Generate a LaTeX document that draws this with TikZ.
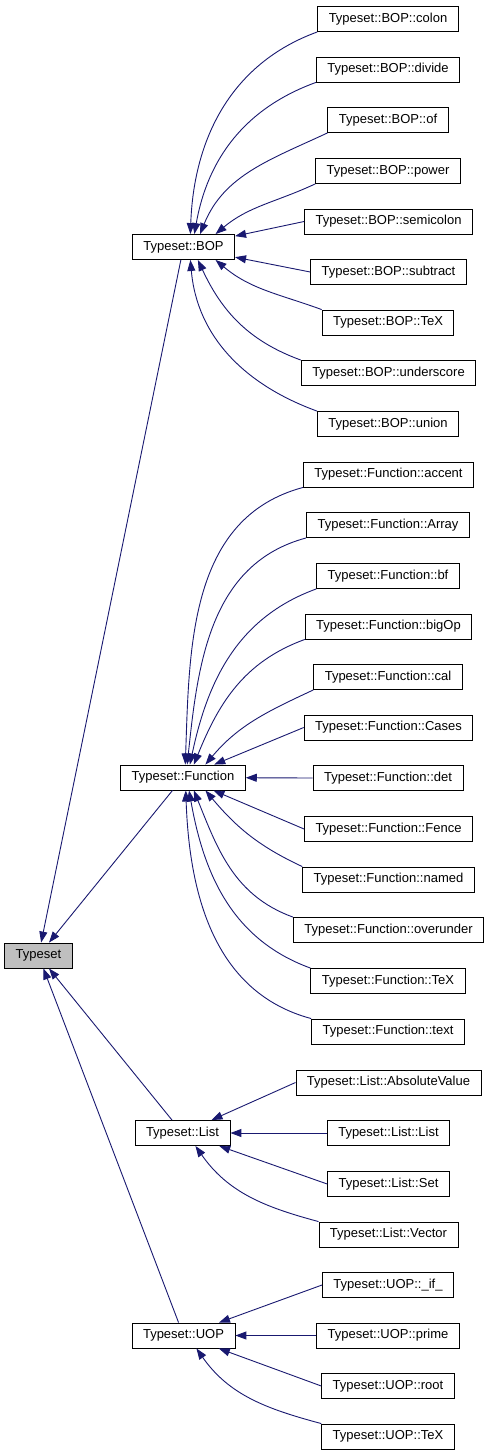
\documentclass[tikz,border=0pt]{standalone}
\usepackage{fontspec}
\setmainfont{Liberation Sans}
\usetikzlibrary{arrows.meta}
\definecolor{edgeblue}{RGB}{25,25,112}
\begin{document}
\begin{tikzpicture}[
    x=1pt, y=1pt,
    class/.style={rectangle, draw=black, line width=0.9pt, minimum height=25pt, inner xsep=11pt, inner ysep=0pt, font=\fontsize{13}{15}\selectfont, fill=white},
    base/.style={class, fill=black!25},
    arrow/.style={-{Triangle[length=11pt, width=8pt]}, draw=edgeblue, line width=0.9pt},
]
    \useasboundingbox (0,0) rectangle (488,-1456);

    % Root
    \node[base] (typeset) at (38.5,-955.5) {Typeset};

    % Direct subclasses
    \node[class] (bop) at (183.5,-247) {Typeset::BOP};
    \node[class] (function) at (183,-777.5) {Typeset::Function};
    \node[class] (list) at (182.5,-1133) {Typeset::List};
    \node[class] (uop) at (183.5,-1335.5) {Typeset::UOP};

    % BOP subclasses
    \node[class] (colon) at (388,-19) {Typeset::BOP::colon};
    \node[class] (divide) at (388,-69.5) {Typeset::BOP::divide};
    \node[class] (of) at (388,-120) {Typeset::BOP::of};
    \node[class] (power) at (388,-171) {Typeset::BOP::power};
    \node[class] (semicolon) at (388.5,-221.5) {Typeset::BOP::semicolon};
    \node[class] (subtract) at (388.5,-272) {Typeset::BOP::subtract};
    \node[class] (boptex) at (388,-322.5) {Typeset::BOP::TeX};
    \node[class] (underscore) at (388.5,-373) {Typeset::BOP::underscore};
    \node[class] (union) at (388,-424) {Typeset::BOP::union};

    % Function subclasses
    \node[class] (accent) at (388.5,-474.5) {Typeset::Function::accent};
    \node[class] (array) at (388,-525) {Typeset::Function::Array};
    \node[class] (bf) at (388,-576) {Typeset::Function::bf};
    \node[class] (bigop) at (388.5,-626.5) {Typeset::Function::bigOp};
    \node[class] (cal) at (388,-677) {Typeset::Function::cal};
    \node[class] (cases) at (388.5,-727.5) {Typeset::Function::Cases};
    \node[class] (det) at (388,-778) {Typeset::Function::det};
    \node[class] (fence) at (388.5,-829) {Typeset::Function::Fence};
    \node[class] (named) at (388.5,-879.5) {Typeset::Function::named};
    \node[class] (overunder) at (388.5,-930) {Typeset::Function::overunder};
    \node[class] (fntex) at (388,-981) {Typeset::Function::TeX};
    \node[class] (fntext) at (388,-1031.5) {Typeset::Function::text};

    % List subclasses
    \node[class] (absval) at (388.5,-1082.5) {Typeset::List::AbsoluteValue};
    \node[class] (listlist) at (388.5,-1133) {Typeset::List::List};
    \node[class] (set) at (388.5,-1184) {Typeset::List::Set};
    \node[class] (vector) at (388.5,-1234.5) {Typeset::List::Vector};

    % UOP subclasses
    \node[class] (if) at (388,-1285) {Typeset::UOP::\_if\_};
    \node[class] (prime) at (388,-1335.5) {Typeset::UOP::prime};
    \node[class] (root) at (388,-1386) {Typeset::UOP::root};
    \node[class] (uoptex) at (388,-1436.5) {Typeset::UOP::TeX};

    % Inheritance to root
    \draw[arrow] (bop) -- (typeset);
    \draw[arrow] (function) -- (typeset);
    \draw[arrow] (list) -- (typeset);
    \draw[arrow] (uop) -- (typeset);

    % Inheritance to BOP
    \draw[arrow] (colon.south west) to[out=200, in=88] (bop.62);
    \draw[arrow] (divide.south west) to[out=200, in=80] (bop.50);
    \draw[arrow] (of.south west) to[out=205, in=68] (bop.38);
    \draw[arrow] (power.south west) to[out=205, in=40] (bop.22);
    \draw[arrow] (semicolon.west) -- (bop);
    \draw[arrow] (subtract.west) -- (bop);
    \draw[arrow] (boptex.north west) to[out=160, in=-40] (bop.-22);
    \draw[arrow] (underscore.north west) to[out=160, in=-65] (bop.-42);
    \draw[arrow] (union.north west) to[out=160, in=-85] (bop.-62);

    % Inheritance to Function
    \draw[arrow] (accent.south west) to[out=195, in=88] (function.80);
    \draw[arrow] (array.south west) to[out=195, in=84] (function.72);
    \draw[arrow] (bf.south west) to[out=200, in=78] (function.62);
    \draw[arrow] (bigop.south west) to[out=200, in=68] (function.50);
    \draw[arrow] (cal.south west) to[out=205, in=50] (function.30);
    \draw[arrow] (cases.west) -- (function);
    \draw[arrow] (det.west) -- (function);
    \draw[arrow] (fence.west) -- (function);
    \draw[arrow] (named.north west) to[out=155, in=-50] (function.-30);
    \draw[arrow] (overunder.north west) to[out=160, in=-68] (function.-50);
    \draw[arrow] (fntex.north west) to[out=160, in=-80] (function.-65);
    \draw[arrow] (fntext.north west) to[out=165, in=-88] (function.-78);

    % Inheritance to List
    \draw[arrow] (absval.west) -- (list);
    \draw[arrow] (listlist.west) -- (list);
    \draw[arrow] (set.west) -- (list);
    \draw[arrow] (vector.north west) to[out=165, in=-55] (list.-45);

    % Inheritance to UOP
    \draw[arrow] (if.west) -- (uop);
    \draw[arrow] (prime.west) -- (uop);
    \draw[arrow] (root.west) -- (uop);
    \draw[arrow] (uoptex.north west) to[out=165, in=-55] (uop.-45);
\end{tikzpicture}
\end{document}
